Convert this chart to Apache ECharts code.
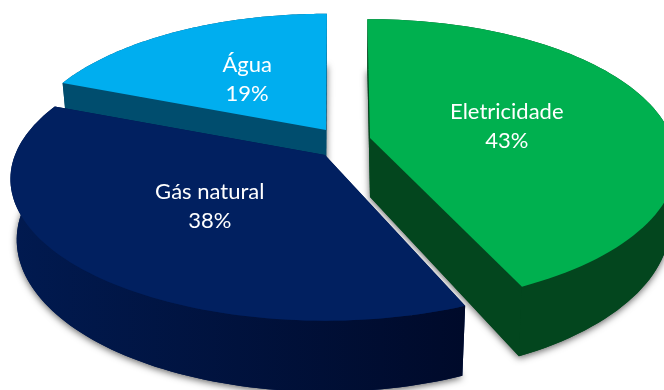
<!DOCTYPE html>
<html>
<head>
<meta charset="utf-8">
<style>html,body{margin:0;padding:0;background:#fff}#c{width:664px;height:390px}</style>
<script src="https://cdn.jsdelivr.net/npm/echarts@6/dist/echarts.min.js"></script>
</head>
<body>
<div id="c"></div>
<script>
const categories = ['Eletricidade', 'Gás natural', 'Água'];
const values = [43, 38, 19];
const topColors = ['#00B04F', '#012060', '#00AEEF'];
const wallColors = ['#03461E', '#011A50', '#004D6E'];
const wallEndColors = ['#03461E', '#000A2A', '#004D6E'];

// Projection of each exploded slice (perspective disc).
const K = 0.17, DEPTH = 59, BOTTOM_X = 0.98;
const view = [
  {cx: 370, cy: 138, R: 302, H: 139, a0: -0.6, a1: 0, rho: 0.473, labelDy: 3},
  {cx: 325, cy: 155, R: 310, H: 137.5, a0: 2.8, a1: 0.4, rho: 0.496, labelDy: 0},
  {cx: 326, cy: 130, R: 301, H: 136, a0: 0, a1: 0.2, rho: 0.5, labelDy: 2.5}
];
const drawOrder = [2, 0, 1];

const total = values.reduce((a, b) => a + b, 0);
const starts = values.map((_, i) => values.slice(0, i).reduce((a, b) => a + b, 0) / total * 360);

function project(v, deg, rho, bottom) {
  const t = deg * Math.PI / 180;
  const s = Math.sin(t) * rho, c = Math.cos(t) * rho;
  const p = 1 / (1 + K * c);
  const xs = bottom ? BOTTOM_X : 1;
  return [v.cx + v.R * s * p * xs, v.cy - v.H * c * p + (bottom ? DEPTH * p : 0)];
}

function renderItem(params, api) {
  const i = api.value(0);
  const v = view[i];
  const from = starts[i] + v.a0;
  const to = starts[i] + values[i] / total * 360 + v.a1;
  const n = 90, top = [], bot = [];
  for (let k = 0; k <= n; k++) {
    const d = from + (to - from) * k / n;
    top.push(project(v, d, 1, false));
    bot.push(project(v, d, 1, true));
  }
  const apexT = project(v, 0, 0, false), apexB = project(v, 0, 0, true);
  const wall = {
    type: 'linear', x: 0, y: 0, x2: 1, y2: 0,
    colorStops: [{offset: 0, color: wallColors[i]}, {offset: 1, color: wallEndColors[i]}]
  };
  const mid = (from + to) / 2;
  const lp = project(v, mid, v.rho, false);
  const children = [
    {type: 'polygon', shape: {points: [apexB].concat(bot)},
     style: {fill: wallColors[i], shadowBlur: 7, shadowColor: 'rgba(0,0,0,0.6)', shadowOffsetX: 0, shadowOffsetY: 2}},
    {type: 'polygon', shape: {points: [apexT, top[0], bot[0], apexB]}, style: {fill: wallColors[i]}},
    {type: 'polygon', shape: {points: [apexT, top[n], bot[n], apexB]}, style: {fill: wallColors[i]}},
    {type: 'polygon', shape: {points: top.concat(bot.slice().reverse())}, style: {fill: wall}},
    {type: 'polygon', shape: {points: [apexT].concat(top)}, style: {fill: topColors[i]}},
    {type: 'text', style: {
      text: categories[i] + '\n' + values[i] + '%',
      x: lp[0], y: lp[1] + v.labelDy, fill: '#fff', font: '22px Lato, "Open Sans", sans-serif',
      lineHeight: 29, align: 'center', verticalAlign: 'middle'
    }}
  ];
  return {type: 'group', children};
}

const chart = echarts.init(document.getElementById('c'), null, {renderer: 'canvas'});
chart.setOption({
  animation: false,
  backgroundColor: '#fff',
  series: [{
    type: 'custom',
    coordinateSystem: 'none',
    renderItem,
    clip: false,
    data: drawOrder.map(i => ({name: categories[i], value: [i, values[i]]}))
  }]
});
</script>
</body>
</html>
